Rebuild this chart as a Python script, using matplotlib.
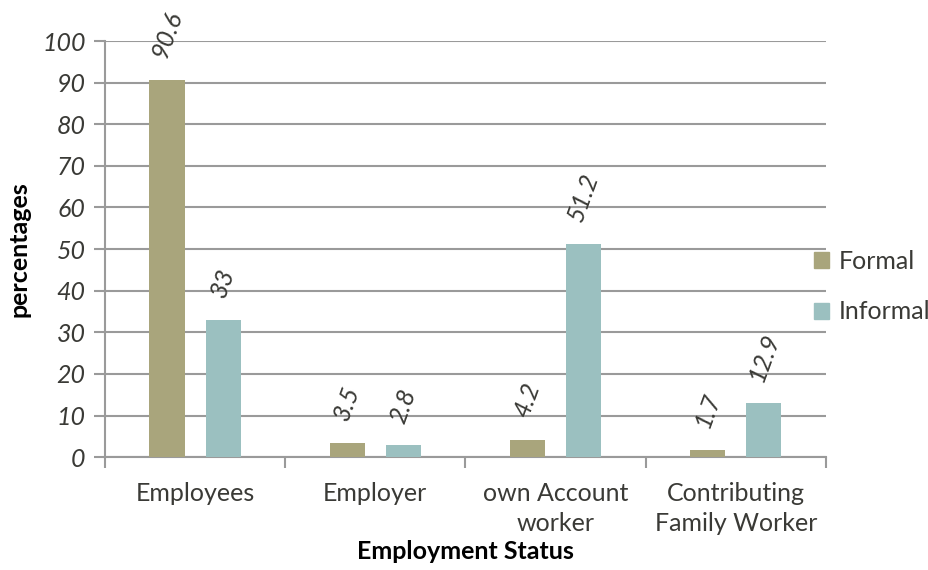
import matplotlib as mpl

mpl.use('Agg')
import matplotlib.pyplot as plt
import numpy as np
from matplotlib.patches import Patch

categories = ["Employees", "Employer", "own Account\nworker", "Contributing\nFamily Worker"]
formal = [90.6, 3.5, 4.2, 1.7]
informal = [33, 2.8, 51.2, 12.9]
formal_labels = ["90.6", "3.5", "4.2", "1.7"]
informal_labels = ["33", "2.8", "51.2", "12.9"]
yticks = [0, 10, 20, 30, 40, 50, 60, 70, 80, 90, 100]

c_formal = "#a9a57c"
c_informal = "#9bc0c0"
txt = "#3a3a36"
grid_c = "#9a9a9a"

plt.rcParams['font.family'] = ['Lato', 'DejaVu Sans']

fig = plt.figure(figsize=(9.29, 5.70), dpi=100)
ax = fig.add_axes([0.113, 0.198, 0.776, 0.730])

x = np.arange(len(categories))
w = 0.195
off = 0.156
b1 = ax.bar(x - off, formal, w, color=c_formal, zorder=3)
b2 = ax.bar(x + off, informal, w, color=c_informal, zorder=3)

for bars, labels in ((b1, formal_labels), (b2, informal_labels)):
    for bar, lab in zip(bars, labels):
        ax.annotate(lab, (bar.get_x() + bar.get_width() / 2, bar.get_height()),
                    xytext=(0, 14), textcoords="offset points",
                    ha="center", va="bottom", rotation=70,
                    fontsize=18, style="italic", color=txt, zorder=4)

ax.set_xlim(-0.5, 3.5)
ax.set_ylim(0, 100)
ax.set_yticks(yticks)
ax.set_yticklabels([str(v) for v in yticks], style="italic", fontsize=18, color=txt)
ax.yaxis.grid(True, color=grid_c, lw=1.5, zorder=0)

# category boundaries get the tick marks, centers get the labels
ax.set_xticks(np.arange(-0.5, 4, 1))
ax.set_xticklabels([])
ax.set_xticks(x, minor=True)
ax.set_xticklabels(categories, minor=True, fontsize=18, color=txt, linespacing=1.38)
ax.tick_params(axis="x", which="major", length=8, width=1.5, color=grid_c, direction="out")
ax.tick_params(axis="x", which="minor", length=0, pad=18)
ax.tick_params(axis="y", length=8, width=1.5, color=grid_c, pad=6)

for s in ("top", "right"):
    ax.spines[s].set_visible(False)
for s in ("left", "bottom"):
    ax.spines[s].set_color(grid_c)
    ax.spines[s].set_linewidth(1.5)

ax.set_ylabel("percentages", fontsize=18, fontweight="bold", color="black", labelpad=8)
ax.set_xlabel("Employment Status", fontsize=18, fontweight="bold", color="black", labelpad=3)

handles = [Patch(color=c_formal), Patch(color=c_informal)]
fig.legend(handles, ["Formal", "Informal"], loc="center left", bbox_to_anchor=(0.876, 0.497),
           frameon=False, fontsize=18, handlelength=0.6, handleheight=0.6,
           handletextpad=0.4, labelspacing=1.1, labelcolor=txt,
           borderpad=0, borderaxespad=0)

fig.savefig("out.png", dpi=100)
